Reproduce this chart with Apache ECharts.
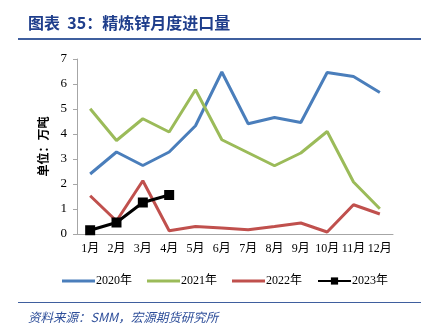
<!DOCTYPE html>
<html><head><meta charset="utf-8">
<script src="https://cdn.jsdelivr.net/npm/echarts@6/dist/echarts.min.js"></script>
<style>html,body{margin:0;padding:0;background:#fff}#c{width:427px;height:336px}</style>
</head><body><div id="c"></div>
<script>
const months = ['1月','2月','3月','4月','5月','6月','7月','8月','9月','10月','11月','12月'];
const s2020 = [2.4, 3.28, 2.74, 3.28, 4.33, 6.48, 4.41, 4.66, 4.46, 6.46, 6.3, 5.66];
const s2021 = [5.01, 3.74, 4.61, 4.08, 5.77, 3.77, 3.25, 2.73, 3.24, 4.1, 2.08, 1.01];
const s2022 = [1.53, 0.52, 2.13, 0.13, 0.3, 0.24, 0.17, 0.3, 0.44, 0.08, 1.17, 0.8];
const s2023 = [0.15, 0.46, 1.26, 1.56];
const yTicks = [0,1,2,3,4,5,6,7];
const chart = echarts.init(document.getElementById('c'));
const serif = '"Liberation Serif", "Noto Sans CJK SC", serif';
const cjk = '"Noto Sans CJK SC", sans-serif';
const bandIcon = 'path://M0,0L0.01,0L0.01,0.01Z M0,3L33,3L33,6L0,6Z M0,9L0.01,9L0.01,8.99Z';
chart.setOption({
  animation: false,
  grid: {left: 77, right: 34, top: 59, bottom: 102},
  xAxis: {
    type: 'category', data: months, boundaryGap: true,
    axisLine: {lineStyle: {color: '#A6A6A6', width: 1}},
    axisTick: {show: false},
    axisLabel: {color: '#000', fontFamily: serif, fontSize: 12, margin: 9, interval: 0}
  },
  yAxis: {
    type: 'value', min: yTicks[0], max: yTicks[yTicks.length-1], interval: 1,
    name: '单位：万吨', nameLocation: 'middle', nameGap: 26, nameRotate: 90,
    nameTextStyle: {fontFamily: cjk, fontSize: 12, fontWeight: 'bold', color: '#000'},
    axisLine: {show: true, lineStyle: {color: '#A6A6A6', width: 1}},
    axisTick: {show: true, length: 4, lineStyle: {color: '#A6A6A6'}},
    splitLine: {show: false},
    axisLabel: {color: '#000', fontFamily: serif, fontSize: 13, margin: 10}
  },
  legend: {
    top: 270, left: 57, itemWidth: 33, itemHeight: 9, itemGap: 15,
    textStyle: {fontFamily: serif, fontSize: 12, color: '#000', padding: [0,0,0,-4]},
    data: [
      {name: '2020年', icon: bandIcon},
      {name: '2021年', icon: bandIcon},
      {name: '2022年', icon: bandIcon},
      {name: '2023年'}
    ]
  },
  series: [
    {name: '2020年', type: 'line', data: s2020, symbol: 'none', lineStyle: {color: '#4A7EBB', width: 3}, itemStyle: {color: '#4A7EBB'}},
    {name: '2021年', type: 'line', data: s2021, symbol: 'none', lineStyle: {color: '#9BBB59', width: 3}, itemStyle: {color: '#9BBB59'}},
    {name: '2022年', type: 'line', data: s2022, symbol: 'none', lineStyle: {color: '#C0504D', width: 3}, itemStyle: {color: '#C0504D'}},
    {name: '2023年', type: 'line', data: s2023, symbol: 'rect', symbolSize: 10, lineStyle: {color: '#000', width: 3}, itemStyle: {color: '#000'}}
  ],
  graphic: [
    {type: 'text', left: 28, top: 15, style: {text: '图表  35：精炼锌月度进口量', fontFamily: cjk, fontSize: 16, fontWeight: 'bold', fill: '#1F3E8C'}},
    {type: 'rect', shape: {x: 18, y: 38, width: 403, height: 2}, style: {fill: '#3F5F9E'}},
    {type: 'rect', shape: {x: 18, y: 302, width: 403, height: 1}, style: {fill: '#3F5F9E'}},
    {type: 'text', left: 28, top: 311, style: {text: '资料来源：SMM，宏源期货研究所', fontFamily: '"Noto Sans CJK SC", serif', fontSize: 12.5, fontStyle: 'italic', fill: '#2F4F9A'}}
  ]
});
</script></body></html>
